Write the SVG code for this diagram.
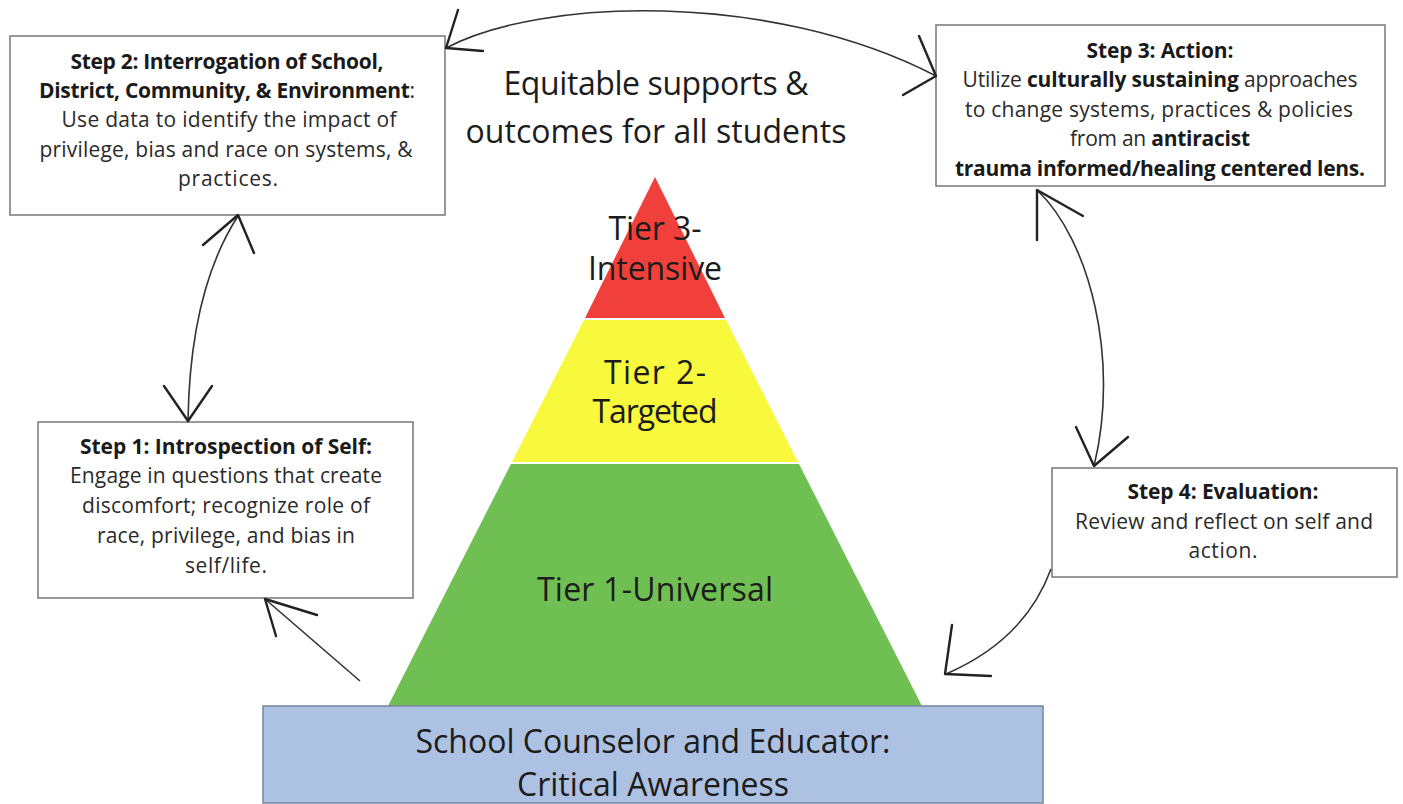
<svg xmlns="http://www.w3.org/2000/svg" width="1403" height="804" viewBox="0 0 1403 804">
<style>
.box{fill:#fff;stroke:#7f7f7f;stroke-width:1.6}
.t{font-family:"Open Sans","Liberation Sans",sans-serif;font-size:21px;fill:#2a2a2a;text-anchor:middle}
.b{font-weight:bold;fill:#1a1a1a}
.big{font-family:"Open Sans","Liberation Sans",sans-serif;font-size:32px;fill:#1c1c1c;text-anchor:middle}
.curve{fill:none;stroke:#333;stroke-width:1.6}
.head{fill:none;stroke:#222;stroke-width:2.4;stroke-linecap:round;stroke-linejoin:round}
</style>
<rect width="1403" height="804" fill="#fff"/>

<g id="title">
<text class="big" x="656" y="95" textLength="305">Equitable supports &amp;</text>
<text class="big" x="656" y="143" textLength="381">outcomes for all students</text>
</g>

<g id="tier3">
<polygon points="655,177 725,318 585,318" fill="#f1403b"/>
<text class="big" x="655" y="240" textLength="93">Tier 3-</text>
<text class="big" x="655" y="280" textLength="134">Intensive</text>
</g>
<g id="tier2">
<polygon points="584,320 726,320 798,462 512,462" fill="#f8f83c"/>
<text class="big" x="655" y="384" textLength="102">Tier 2-</text>
<text class="big" x="655" y="423" textLength="125">Targeted</text>
</g>
<g id="tier1">
<polygon points="511,464 799,464 922,706 388,706" fill="#70bf53"/>
<text class="big" x="655" y="601" textLength="236">Tier 1-Universal</text>
</g>

<g id="base">
<rect x="263" y="706" width="780" height="97" fill="#adc2e2" stroke="#7b8aa3" stroke-width="1.6"/>
<text class="big" x="653" y="753" textLength="475">School Counselor and Educator:</text>
<text class="big" x="653" y="796" textLength="272">Critical Awareness</text>
</g>

<g id="step2">
<rect class="box" x="10" y="36" width="435" height="179"/>
<text class="t b" x="227" y="69" textLength="313">Step 2: Interrogation of School,</text>
<text class="t" x="227" y="98" textLength="376"><tspan class="b">District, Community, &amp; Environment</tspan>:</text>
<text class="t" x="229" y="127" textLength="335">Use data to identify the impact of</text>
<text class="t" x="226" y="157" textLength="373">privilege, bias and race on systems, &amp;</text>
<text class="t" x="228" y="186" textLength="100">practices.</text>
</g>

<g id="step3">
<rect class="box" x="936" y="25" width="449" height="161"/>
<text class="t b" x="1160" y="58" textLength="147">Step 3: Action:</text>
<text class="t" x="1160" y="87" textLength="395">Utilize <tspan class="b">culturally sustaining</tspan> approaches</text>
<text class="t" x="1159" y="117" textLength="388">to change systems, practices &amp; policies</text>
<text class="t" x="1160" y="146" textLength="180">from an <tspan class="b">antiracist</tspan></text>
<text class="t b" x="1160" y="176" textLength="410">trauma informed/healing centered lens.</text>
</g>

<g id="step1">
<rect class="box" x="38" y="422" width="375" height="176"/>
<text class="t b" x="226" y="454" textLength="292">Step 1: Introspection of Self:</text>
<text class="t" x="226" y="483" textLength="312">Engage in questions that create</text>
<text class="t" x="226" y="513" textLength="288">discomfort; recognize role of</text>
<text class="t" x="226" y="543" textLength="258">race, privilege, and bias in</text>
<text class="t" x="226" y="573" textLength="82">self/life.</text>
</g>

<g id="step4">
<rect class="box" x="1052" y="468" width="345" height="109"/>
<text class="t b" x="1223" y="499" textLength="191">Step 4: Evaluation:</text>
<text class="t" x="1224" y="529" textLength="298">Review and reflect on self and</text>
<text class="t" x="1223" y="558" textLength="69">action.</text>
</g>

<g id="connectors">
<path class="curve" d="M446,48 C540,-2 770,-10 936,76"/>
<polyline class="head" points="458,10 446,48 483,51"/>
<polyline class="head" points="919,36 936,76 903,95"/>

<path class="curve" d="M238,216 Q190,290 188,421"/>
<polyline class="head" points="203,245 238,215 254,253"/>
<polyline class="head" points="164,386 188,421 212,386"/>

<path class="curve" d="M1037,190 C1090,240 1120,360 1094,466"/>
<polyline class="head" points="1037,240 1037,190 1083,216"/>
<polyline class="head" points="1076,427 1094,466 1128,437"/>

<path class="curve" d="M1051,569 Q1025,640 946,674"/>
<polyline class="head" points="952,625 945,674 991,676"/>

<path class="curve" d="M360,681 Q318,645 265,599"/>
<polyline class="head" points="276,636 265,599 317,615"/>
</g>
</svg>
